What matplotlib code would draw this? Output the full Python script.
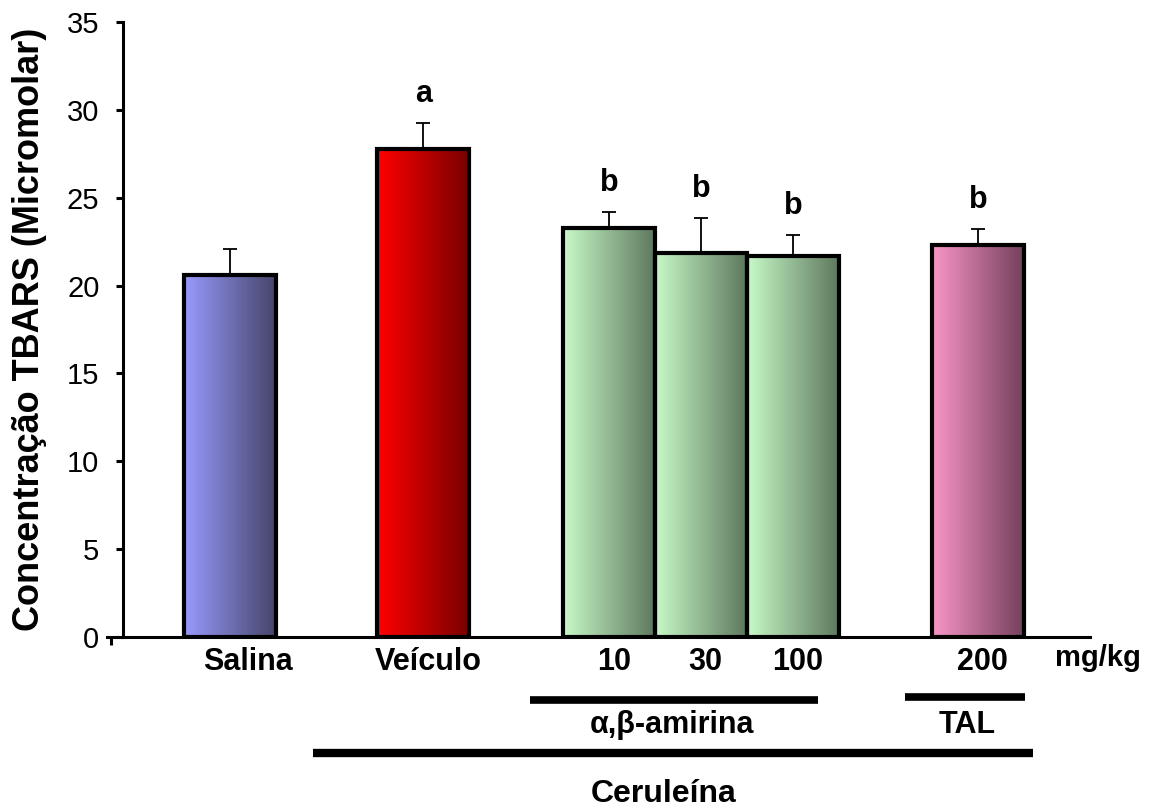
import numpy as np
import matplotlib
matplotlib.use("Agg")
import matplotlib.pyplot as plt
from matplotlib.colors import LinearSegmentedColormap
from matplotlib.patches import Rectangle

plt.rcParams['font.family'] = ['Liberation Sans', 'DejaVu Sans']

# data
groups = ['Salina', 'Veículo', '10', '30', '100', '200']
means = [20.6, 27.8, 23.3, 21.85, 21.7, 22.3]
errs = [1.5, 1.45, 0.9, 2.0, 1.2, 0.9]
letters = ['', 'a', 'b', 'b', 'b', 'b']
xpos = [0, 2.1, 4.12, 5.12, 6.12, 8.13]
grad_colors = [('#9a9aff', '#45456b'), ('#ff0000', '#780000'),
               ('#c8fac8', '#5e785e'), ('#c8fac8', '#5e785e'),
               ('#c8fac8', '#5e785e'), ('#fa96c8', '#74405c')]

W, H = 1160, 807
fig = plt.figure(figsize=(W / 100, H / 100), dpi=100)
# axes spans pixel x 107..1090, y 22..637
ax = fig.add_axes([107 / W, 1 - 637 / H, (1090 - 107) / W, (637 - 22) / H])

px = 92.0  # pixels per bar width
x0 = 230.0
xl = ((107 - x0) / px, (1090 - x0) / px)
yaxis_x = (123 - x0) / px

grad = np.linspace(0, 1, 256).reshape(1, -1)
for x, m, (c1, c2) in zip(xpos, means, grad_colors):
    cmap = LinearSegmentedColormap.from_list('g', [c1, c2])
    rect = Rectangle((x - 0.5, 0), 1, m, facecolor='none', edgecolor='black',
                     linewidth=3, zorder=3)
    ax.add_patch(rect)
    im = ax.imshow(grad, cmap=cmap, extent=[x - 0.5, x + 0.5, 0, m],
                   aspect='auto', zorder=2, interpolation='bilinear')
    im.set_clip_path(rect)

ax.errorbar(xpos, means, yerr=[np.zeros(len(errs)), errs], fmt='none',
            ecolor='black', elinewidth=1.3, capsize=5, capthick=1.3, zorder=1)

for x, m, e, l in zip(xpos, means, errs, letters):
    if l:
        ax.text(x, m + e + 0.8, l, ha='center', va='bottom', fontsize=22,
                fontweight='bold')

ax.set_xlim(*xl)
ax.set_ylim(0, 35)

for s in ['top', 'right']:
    ax.spines[s].set_visible(False)
ax.spines['left'].set_position(('data', yaxis_x))
ax.spines['left'].set_linewidth(2.2)
ax.spines['bottom'].set_linewidth(2.2)

ax.set_yticks(np.arange(0, 36, 5))
ax.tick_params(axis='y', direction='out', length=5, width=2.2, labelsize=21,
               pad=12)
ax.set_xticks([xl[0] + 0.045])
ax.set_xticklabels([''])
ax.tick_params(axis='x', direction='out', length=6, width=2.2)

ax.set_ylabel('Concentração TBARS (Micromolar)', fontsize=26,
              fontweight='bold', labelpad=14)

# group labels below the axis (Salina sits a bit right of its bar)
lab_y = -1.45
for i, (x, g) in enumerate(zip(xpos, groups)):
    dx = 0.2 if i == 0 else 0.05
    ax.text(x + dx, lab_y, g, ha='center', va='center', fontsize=22,
            fontweight='bold', clip_on=False)
ax.text(9.43, -1.2, 'mg/kg', ha='center', va='center', fontsize=21,
        fontweight='bold', clip_on=False)

# bracket lines
ax.plot([(530 - x0) / px, (818 - x0) / px], [-3.6, -3.6], color='black',
        linewidth=5.5, solid_capstyle='butt', clip_on=False)
ax.plot([(905 - x0) / px, (1025 - x0) / px], [-3.4, -3.4], color='black',
        linewidth=5.5, solid_capstyle='butt', clip_on=False)
ax.plot([(313 - x0) / px, (1033 - x0) / px], [-6.6, -6.6], color='black',
        linewidth=6, solid_capstyle='butt', clip_on=False)

ax.text((672 - x0) / px, -5.0, 'α,β-amirina', ha='center', va='center',
        fontsize=22, fontweight='bold', clip_on=False)
ax.text((967 - x0) / px, -5.0, 'TAL', ha='center', va='center',
        fontsize=22, fontweight='bold', clip_on=False)
ax.text((664 - x0) / px, -8.95, 'Ceruleína', ha='center', va='center',
        fontsize=23, fontweight='bold', clip_on=False)

fig.savefig('out.png', dpi=100)
